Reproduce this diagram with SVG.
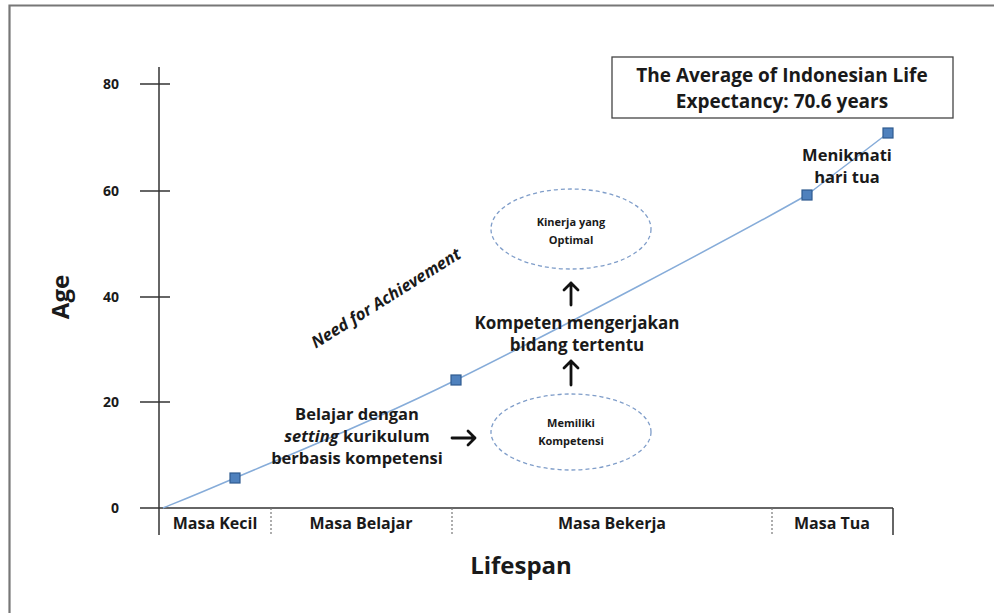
<svg xmlns="http://www.w3.org/2000/svg" width="994" height="613" viewBox="0 0 994 613">
<defs>
<style>
.t{font-family:"Open Sans","Liberation Sans",sans-serif;font-weight:bold;fill:#1a1a1a;text-anchor:middle}
.ax{stroke:#333;stroke-width:1.5;fill:none}
.dash{stroke:#777;stroke-width:1.2;stroke-dasharray:2,2;fill:none}
.ell{fill:none;stroke:#7f9dc9;stroke-width:1.3;stroke-dasharray:4,3}
.mk{fill:#4f81bd;stroke:#2f5b8f;stroke-width:1.2}
.arr{stroke:#111;stroke-width:2.8;fill:none;stroke-linecap:round;stroke-linejoin:round}
</style>
</defs>
<rect width="994" height="613" fill="#fff"/>
<path d="M9.5 613 V5.5 H994" fill="none" stroke="#777" stroke-width="2.2"/>

<g id="axes">
<line class="ax" x1="159" y1="67" x2="159" y2="535"/>
<line class="ax" x1="140" y1="508" x2="893" y2="508"/>
<line class="ax" x1="140" y1="84" x2="170" y2="84"/>
<line class="ax" x1="140" y1="191" x2="170" y2="191"/>
<line class="ax" x1="140" y1="297" x2="170" y2="297"/>
<line class="ax" x1="140" y1="402" x2="170" y2="402"/>
<line class="ax" x1="893" y1="508" x2="893" y2="535"/>
<line class="dash" x1="271" y1="508" x2="271" y2="535"/>
<line class="dash" x1="452" y1="508" x2="452" y2="535"/>
<line class="dash" x1="772" y1="508" x2="772" y2="535"/>
<g class="t" font-size="14" style="text-anchor:end">
<text x="119" y="89">80</text>
<text x="119" y="196">60</text>
<text x="119" y="302">40</text>
<text x="119" y="407">20</text>
<text x="119" y="513">0</text>
</g>
<g class="t" font-size="16">
<text x="215" y="529">Masa Kecil</text>
<text x="361" y="529">Masa Belajar</text>
<text x="612" y="529">Masa Bekerja</text>
<text x="832" y="529">Masa Tua</text>
</g>
<text class="t" x="521" y="574" font-size="24">Lifespan</text>
<text class="t" font-size="24" transform="translate(69,297) rotate(-90)">Age</text>
</g>

<g id="connectors">
<path d="M163 508 C175 503 186 499 235 478 C284 457 361 427 456 380 C551 333 735 236 807 195 C834 174 861 154 888 133" fill="none" stroke="#86acd9" stroke-width="1.5"/>
<path class="arr" d="M571 305 V283 M564 290 L571 283 L578 290"/>
<path class="arr" d="M571 385 V361 M564 368 L571 361 L578 368"/>
<path class="arr" d="M452 438 H475 M468 431 L475 438 L468 445"/>
</g>

<g id="markers">
<rect class="mk" x="230" y="473" width="10" height="10"/>
<rect class="mk" x="451" y="375" width="10" height="10"/>
<rect class="mk" x="802" y="190" width="10" height="10"/>
<rect class="mk" x="883" y="128" width="10" height="10"/>
</g>

<g id="title">
<rect x="612" y="57" width="341" height="61" fill="#fff" stroke="#444" stroke-width="1.3"/>
<text class="t" x="782" y="82" font-size="19">The Average of Indonesian Life</text>
<text class="t" x="782" y="108" font-size="19">Expectancy: 70.6 years</text>
</g>

<g id="menikmati">
<text class="t" x="847" y="161" font-size="16.5">Menikmati</text>
<text class="t" x="847" y="183" font-size="16.5">hari tua</text>
</g>

<g id="kinerja">
<ellipse class="ell" cx="571" cy="229" rx="80" ry="40"/>
<text class="t" x="571" y="226" font-size="11">Kinerja yang</text>
<text class="t" x="571" y="244" font-size="11">Optimal</text>
</g>

<g id="kompeten">
<text class="t" x="577" y="329" font-size="17">Kompeten mengerjakan</text>
<text class="t" x="577" y="351" font-size="17">bidang tertentu</text>
</g>

<g id="memiliki">
<ellipse class="ell" cx="571" cy="432" rx="80" ry="38"/>
<text class="t" x="571" y="427" font-size="11">Memiliki</text>
<text class="t" x="571" y="445" font-size="11">Kompetensi</text>
</g>

<g id="belajar">
<text class="t" x="357" y="420" font-size="16.5">Belajar dengan</text>
<text class="t" x="357" y="442" font-size="16.5"><tspan font-style="italic">setting</tspan> kurikulum</text>
<text class="t" x="357" y="464" font-size="16.5">berbasis kompetensi</text>
</g>

<g id="need">
<text class="t" font-size="16.5" font-style="italic" transform="translate(389,303) rotate(-32)">Need for Achievement</text>
</g>
</svg>
